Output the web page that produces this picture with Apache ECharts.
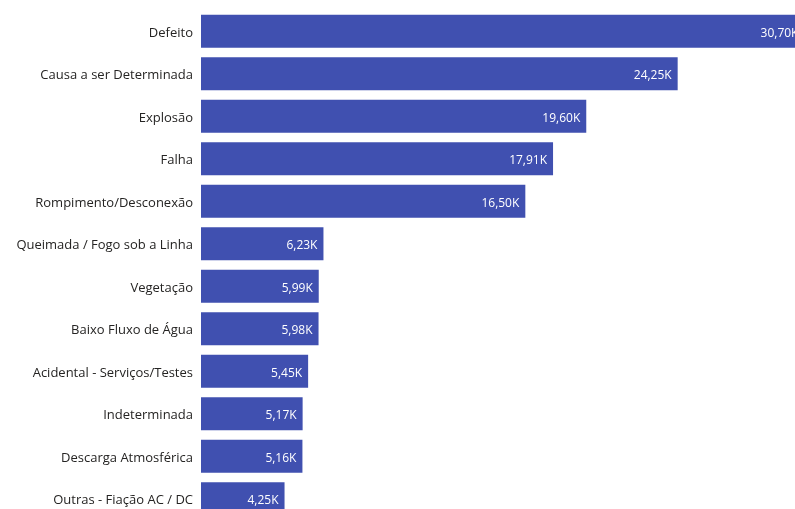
<!DOCTYPE html>
<html>
<head>
<meta charset="utf-8">
<script src="https://cdn.jsdelivr.net/npm/echarts@6/dist/echarts.min.js"></script>
<style>
  html, body { margin: 0; padding: 0; background: #ffffff; }
  #chart { width: 795px; height: 509px; }
</style>
</head>
<body>
<div id="chart"></div>
<script>
// Ocorrências por causa (milhares)
const causas = [
  'Defeito',
  'Causa a ser Determinada',
  'Explosão',
  'Falha',
  'Rompimento/Desconexão',
  'Queimada / Fogo sob a Linha',
  'Vegetação',
  'Baixo Fluxo de Água',
  'Acidental - Serviços/Testes',
  'Indeterminada',
  'Descarga Atmosférica',
  'Outras - Fiação AC / DC'
];
const ocorrencias = [30.70, 24.25, 19.60, 17.91, 16.50, 6.23, 5.99, 5.98, 5.45, 5.17, 5.16, 4.25];

const fmtK = v => v.toFixed(2).replace('.', ',') + 'K';

const chart = echarts.init(document.getElementById('chart'), null, { renderer: 'canvas' });
chart.setOption({
  animation: false,
  grid: {
    left: 201, top: 10, width: 629, height: 510,
    containLabel: false,
    outerBoundsMode: 'none'
  },
  xAxis: {
    type: 'value', min: 0, max: 32, show: false
  },
  yAxis: {
    type: 'category',
    data: causas,
    inverse: true,
    axisLine: { show: false },
    axisTick: { show: false },
    splitLine: { show: false },
    axisLabel: {
      margin: 8,
      formatter: v => '{c|' + v + '}',
      rich: {
        c: {
          color: '#252423',
          fontSize: 13,
          fontFamily: 'Open Sans',
          padding: [4, 0, 0, 0]
        }
      }
    }
  },
  series: [{
    type: 'bar',
    data: ocorrencias,
    barWidth: 33,
    itemStyle: { color: '#4050B0' },
    label: {
      show: true,
      position: 'insideRight',
      distance: 6,
      offset: [0, 2],
      color: '#ffffff',
      fontSize: 12,
      fontFamily: 'Open Sans',
      formatter: p => fmtK(p.value)
    }
  }]
});
</script>
</body>
</html>
